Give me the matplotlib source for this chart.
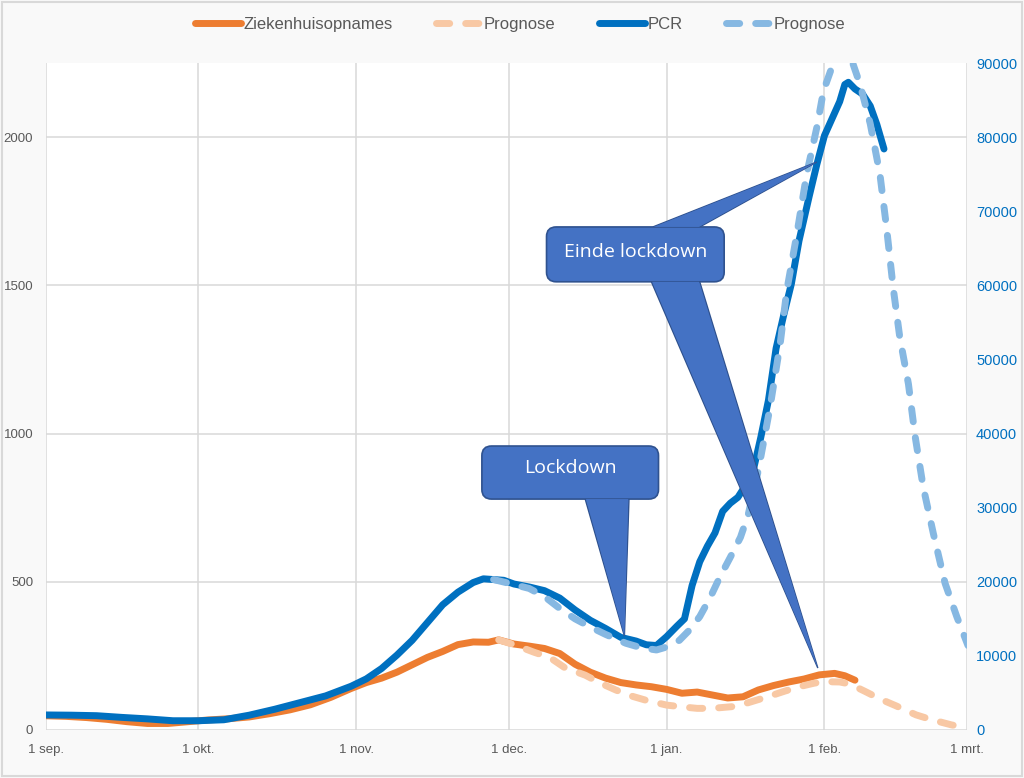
import matplotlib.pyplot as plt
from matplotlib.patches import FancyBboxPatch, Polygon, Rectangle

# days since 1 sep
TICK_DAYS = [0, 30, 61, 91, 122, 153, 181]
TICK_LABELS = ["1 sep.", "1 okt.", "1 nov.", "1 dec.", "1 jan.", "1 feb.", "1 mrt."]

# ziekenhuisopnames (left axis)
zkh_days = [0, 4, 8, 12, 16, 20, 24, 28, 32, 36, 40, 44, 48, 52, 56, 60, 63, 66, 69, 72,
            75, 78, 81, 84, 87, 89, 92, 95, 98, 101, 104, 107, 110, 113, 116, 119, 122,
            125, 128, 131, 134, 137, 140, 143, 146, 149, 152, 155, 157, 159]
zkh_vals = [48, 46, 42, 36, 28, 22, 22, 28, 34, 38, 44, 55, 68, 85, 110, 140, 160, 175, 195, 220,
            245, 265, 288, 297, 296, 304, 290, 283, 275, 258, 222, 195, 175, 160, 152, 146, 137,
            124, 128, 118, 108, 112, 135, 150, 162, 172, 186, 191, 183, 168]

zkh_prog_days = [89, 92, 96, 99, 102, 106, 109, 112, 115, 118, 122, 125, 128, 131, 135, 138,
                 142, 145, 148, 151, 153, 156, 158, 161, 164, 167, 171, 174, 178, 181]
zkh_prog_vals = [304, 288, 262, 245, 210, 185, 158, 135, 115, 100, 84, 78, 73, 73, 79, 92,
                 113, 130, 146, 158, 163, 162, 155, 130, 104, 82, 51, 35, 17, 8]

# PCR (right axis)
pcr_days = [0, 5, 10, 15, 20, 25, 30, 35, 40, 45, 50, 55, 60, 63, 66, 69, 72, 75, 78, 81, 84,
            86, 88, 90, 92, 95, 98, 101, 104, 107, 110, 113, 116, 118, 120, 122, 124, 125.5,
            127, 128.5, 130, 131.5, 133, 134.5, 136, 137.5, 139, 140.5, 142, 143.5, 145, 146.5,
            148, 150, 151.5, 153, 154.5, 156, 157, 157.7, 159, 160.5, 162, 163.3, 164.7]
pcr_vals = [2030, 2000, 1930, 1700, 1500, 1250, 1250, 1380, 2000, 2800, 3700, 4600, 5900, 6900,
            8300, 10100, 12100, 14500, 16900, 18600, 19900, 20400, 20300, 20200, 19700, 19300,
            18800, 17800, 16200, 14800, 13700, 12500, 12000, 11500, 11400, 12600, 14000, 15000,
            19500, 22700, 24800, 26600, 29500, 30600, 31400, 33000, 35000, 39500, 44500, 51500,
            56000, 60200, 66000, 72000, 76300, 80200, 82500, 84800, 87100, 87400, 86500, 85800,
            84200, 81700, 78400]

pcr_prog_days = [88, 91, 95, 98, 101, 104, 107, 110, 114, 117, 120, 122, 124.5, 126.5, 128.5,
                 130.5, 132.5, 134.5, 136.5, 138, 140, 142.3, 144.3, 145.6, 147.6, 149.5, 151.5,
                 152.8, 154.7, 156.7, 158.6, 160, 162, 163.9, 165.2, 166.5, 167.8, 169.5, 170.8,
                 172.4, 174.4, 176.7, 179, 181.2]
pcr_prog_vals = [20300, 19800, 19100, 18000, 16400, 15000, 13900, 12900, 11700, 11100, 10800,
                 11200, 12100, 13500, 15300, 17800, 20700, 23300, 26000, 29000, 35000, 43500,
                 52100, 59300, 67000, 75000, 81300, 86200, 89900, 92000, 89900, 87100, 81800,
                 75000, 67800, 59700, 53000, 46700, 39700, 32800, 26500, 19800, 15300, 11400]

ORANGE = "#ED7D31"
PEACH = "#F8C8A4"
BLUE = "#0070C0"
LIGHTBLUE = "#86B8E2"
GREY = "#595959"

plt.rcParams['font.family'] = ['Liberation Sans', 'DejaVu Sans']

fig = plt.figure(figsize=(10.24, 7.78), dpi=100, facecolor="#f9f9f9")
ax = fig.add_axes([0.0446, 0.0617, 0.8997, 0.8573])
ax.set_facecolor("white")
ax2 = ax.twinx()

lw = 5.0
dash = (0, (1.9, 2.3))
l1, = ax.plot(zkh_days, zkh_vals, color=ORANGE, lw=lw, solid_capstyle='round',
              solid_joinstyle='round', zorder=3)
l2, = ax.plot(zkh_prog_days, zkh_prog_vals, color=PEACH, lw=lw, linestyle=dash,
              dash_capstyle='round', zorder=4)
l3, = ax2.plot(pcr_days, pcr_vals, color=BLUE, lw=lw, solid_capstyle='round',
               solid_joinstyle='round', zorder=3)
l4, = ax2.plot(pcr_prog_days, pcr_prog_vals, color=LIGHTBLUE, lw=lw, linestyle=dash,
               dash_capstyle='round', zorder=4)

ax.set_xlim(0, 181)
ax.set_ylim(0, 2250)
ax2.set_ylim(0, 90000)
ax.set_xticks(TICK_DAYS)
ax.set_xticklabels(TICK_LABELS)
ax.set_yticks([0, 500, 1000, 1500, 2000])
ax2.set_yticks(range(0, 90001, 10000))
ax.grid(True, color="#d9d9d9", lw=1.1)
ax.set_axisbelow(True)
for a in (ax, ax2):
    for s in a.spines.values():
        s.set_visible(False)
ax.tick_params(axis='x', length=0, pad=10, labelsize=9.5, labelcolor=GREY)
ax.tick_params(axis='y', length=0, pad=9, labelsize=9.5, labelcolor=GREY)
ax2.tick_params(axis='y', length=0, pad=6.5, labelsize=10.5, labelcolor=BLUE)

# callouts (drawn in right-axis units)
BOX_FC = "#4472C4"
BOX_EC = "#2F528F"
aspect = 685


def callout(x0, x1, y0, y1, wedges, text, tx, ty):
    for base_a, base_b, base_y, tip in wedges:
        ax2.add_patch(Polygon([(base_a, base_y), (base_b, base_y), tip], closed=True,
                              fc=BOX_FC, ec=BOX_EC, lw=1, zorder=10))
    ax2.add_patch(FancyBboxPatch((x0, y0), x1 - x0, y1 - y0,
                                 boxstyle="round,pad=0,rounding_size=1.9",
                                 mutation_aspect=aspect, fc=BOX_FC, ec=BOX_EC, lw=1.2,
                                 zorder=11))
    for base_a, base_b, base_y, tip in wedges:
        ax2.add_patch(Polygon([(base_a + 0.15, base_y), (base_b - 0.15, base_y), tip],
                              closed=True, fc=BOX_FC, ec='none', zorder=12))
    ax2.text(tx, ty, text, color="white", fontsize=14, family=['Open Sans', 'DejaVu Sans'],
             ha='center', va='center', zorder=13)


callout(85.7, 120.4, 31160, 38320,
        [(106.0, 114.6, 31160, (113.7, 12680))],
        "Lockdown", 103.0, 35300)
callout(98.4, 133.3, 60480, 67880,
        [(119.3, 128.5, 67880, (151.5, 76640)),
         (119.0, 128.5, 60480, (151.7, 8360))],
        "Einde lockdown", 115.9, 64500)

fig.legend([l1, l2, l3, l4], ["Ziekenhuisopnames", "Prognose", "PCR", "Prognose"],
           loc='center', bbox_to_anchor=(0.508, 0.969), ncol=4, frameon=False,
           handlelength=2.75, handletextpad=0.15, columnspacing=2.6, fontsize=12,
           labelcolor=GREY)

fig.patches.append(Rectangle((0.002, 0.002), 0.996, 0.996, transform=fig.transFigure,
                             fill=False, ec="#d9d9d9", lw=1.5))

fig.savefig("out.png", dpi=100, facecolor=fig.get_facecolor())
